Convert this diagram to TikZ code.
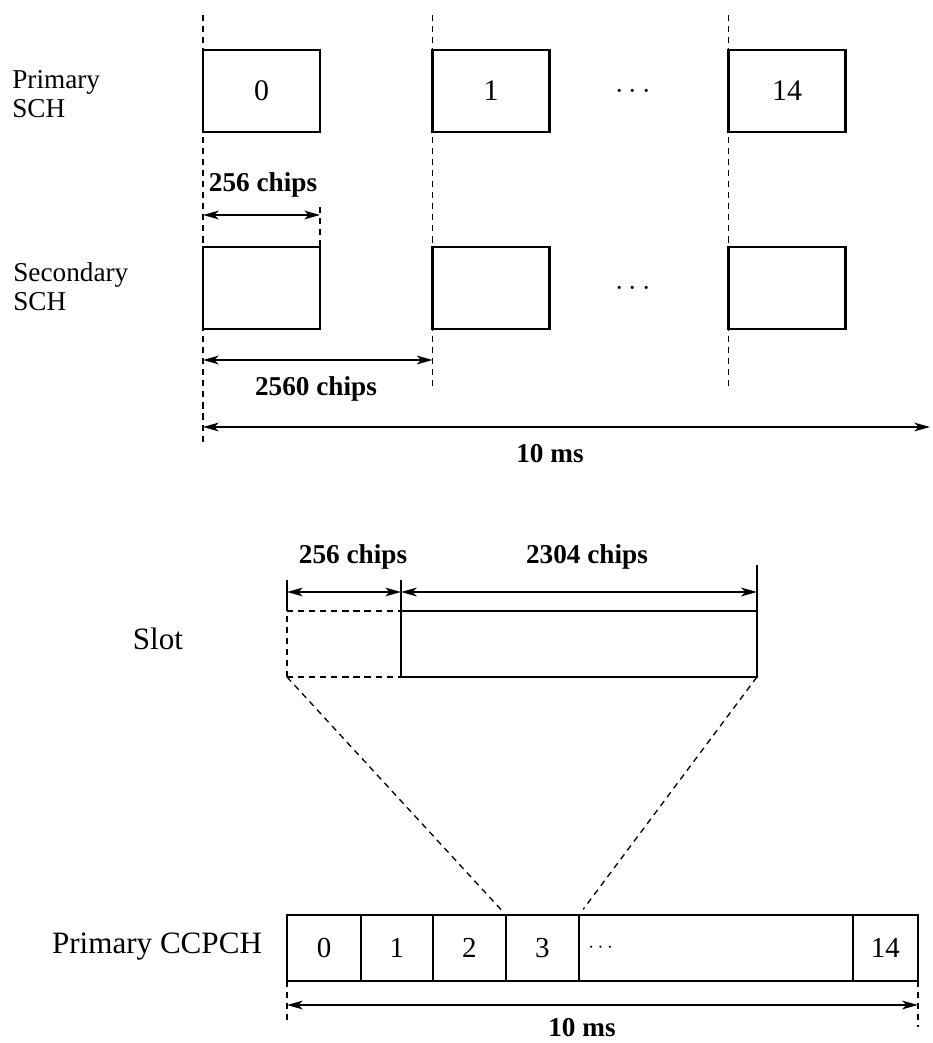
\documentclass[tikz,border=0pt]{standalone}
\usepackage{fontspec}
\setmainfont{Liberation Serif}
\usepackage{tikz}
\usetikzlibrary{arrows.meta,positioning}

\tikzset{
  chbox/.style={draw, line width=1.5pt, minimum width=2.34cm, minimum height=1.64cm,
    inner sep=0pt, outer sep=0pt, font=\fontsize{17}{17}\selectfont},
  cell/.style={draw, line width=0.75pt, minimum height=1.32cm, inner sep=0pt,
    outer sep=0pt, font=\fontsize{16.5}{17}\selectfont},
  guide/.style={dash pattern=on 3.5pt off 2.8pt, line width=0.75pt},
  dim/.style={<->, line width=0.7pt},
  tick/.style={line width=0.8pt},
  lbl/.style={font=\fontsize{15.5}{16.5}\selectfont, align=left, inner sep=0pt},
  biglbl/.style={font=\fontsize{17.7}{18}\selectfont, inner sep=0pt},
  dimlbl/.style={font=\fontsize{15.5}{16}\selectfont\bfseries, inner sep=0pt},
}

\begin{document}
\begin{tikzpicture}[x=0.02cm, y=-0.02cm, >={Stealth[length=9pt,width=5pt,inset=2.5pt]}]
  \useasboundingbox (0,0) rectangle (932,1043);

  % synchronisation channels
  \node[lbl, anchor=north west] (pschl) at (12,70.5) {Primary\\SCH};
  \node[lbl, anchor=north west] (sschl) at (13,262.5) {Secondary\\SCH};

  \node[chbox] (p0) at (261.5,91) {0};
  \node[chbox] (p1) at (491,91) {1};
  \node[chbox] (p14) at (787,91) {14};
  \node[font=\fontsize{16}{16}\selectfont] (pdots) at (633,92) {$\cdots$};

  \node[chbox] (s0) at (261.5,288) {};
  \node[chbox] (s1) at (491,288) {};
  \node[chbox] (s14) at (787,288) {};
  \node[font=\fontsize{16}{16}\selectfont] (sdots) at (633,289) {$\cdots$};

  \draw[guide] (p0.north west |- 0,15) -- (p0.north west |- 0,443);
  \draw[guide] (p1.north west |- 0,15) -- (p1.north west |- 0,388);
  \draw[guide] (p14.north west |- 0,15) -- (p14.north west |- 0,388);
  \draw[guide] (s0.north east |- 0,207) -- (s0.north east);

  \draw[dim] (s0.west |- 0,215) -- (s0.east |- 0,215);
  \node[dimlbl, anchor=base] (l256) at (263,192) {256 chips};
  \draw[dim] (s0.west |- 0,360) -- (s1.west |- 0,360);
  \node[dimlbl, anchor=base] (l2560) at (316,395) {2560 chips};
  \draw[dim] (s0.west |- 0,427) -- (930,427);
  \node[dimlbl, anchor=base] (lframe) at (550,462) {10 ms};

  % slot and primary CCPCH
  \node[biglbl, anchor=base] (slotl) at (158,649) {Slot};
  \node[cell, guide, minimum width=2.28cm, anchor=west] (slA) at (287,644) {};
  \node[cell, minimum width=7.12cm, right=0pt of slA] (slB) {};

  \draw[tick] (slA.north west) -- (slA.north west |- 0,580);
  \draw[tick] (slB.north west) -- (slB.north west |- 0,580);
  \draw[tick] (slB.north east) -- (slB.north east |- 0,565);
  \draw[dim] (slA.north west |- 0,592) -- (slB.north west |- 0,592);
  \draw[dim] (slB.north west |- 0,592) -- (slB.north east |- 0,592);
  \node[dimlbl, anchor=base] (l256b) at (353,563) {256 chips};
  \node[dimlbl, anchor=base] (l2304) at (587,563) {2304 chips};

  \node[biglbl, anchor=base] (ccl) at (157,953) {Primary CCPCH};
  \node[cell, minimum width=1.48cm, anchor=west] (c0) at (287,948) {0};
  \node[cell, minimum width=1.44cm, right=0pt of c0] (c1) {1};
  \node[cell, minimum width=1.46cm, right=0pt of c1] (c2) {2};
  \node[cell, minimum width=1.46cm, right=0pt of c2] (c3) {3};
  \node[cell, minimum width=5.48cm, right=0pt of c3] (cd) {};
  \node[cell, minimum width=1.30cm, right=0pt of cd] (c14) {14};
  \node[anchor=west, inner sep=0pt, font=\fontsize{13}{13}\selectfont] (cdots) at ([xshift=0.18cm]cd.west) {$\cdots$};

  \draw[guide, shorten >=4pt] (slA.south west) -- (c3.north west);
  \draw[guide, shorten >=4pt] (slB.south east) -- (cd.north west);

  \draw[guide] (c0.south west) -- (c0.south west |- 0,1020);
  \draw[guide] (c14.south east) -- (c14.south east |- 0,1027);
  \draw[dim] (c0.south west |- 0,1005) -- (c14.south east |- 0,1005);
  \node[dimlbl, anchor=base] (lframeb) at (582,1036) {10 ms};
\end{tikzpicture}
\end{document}
